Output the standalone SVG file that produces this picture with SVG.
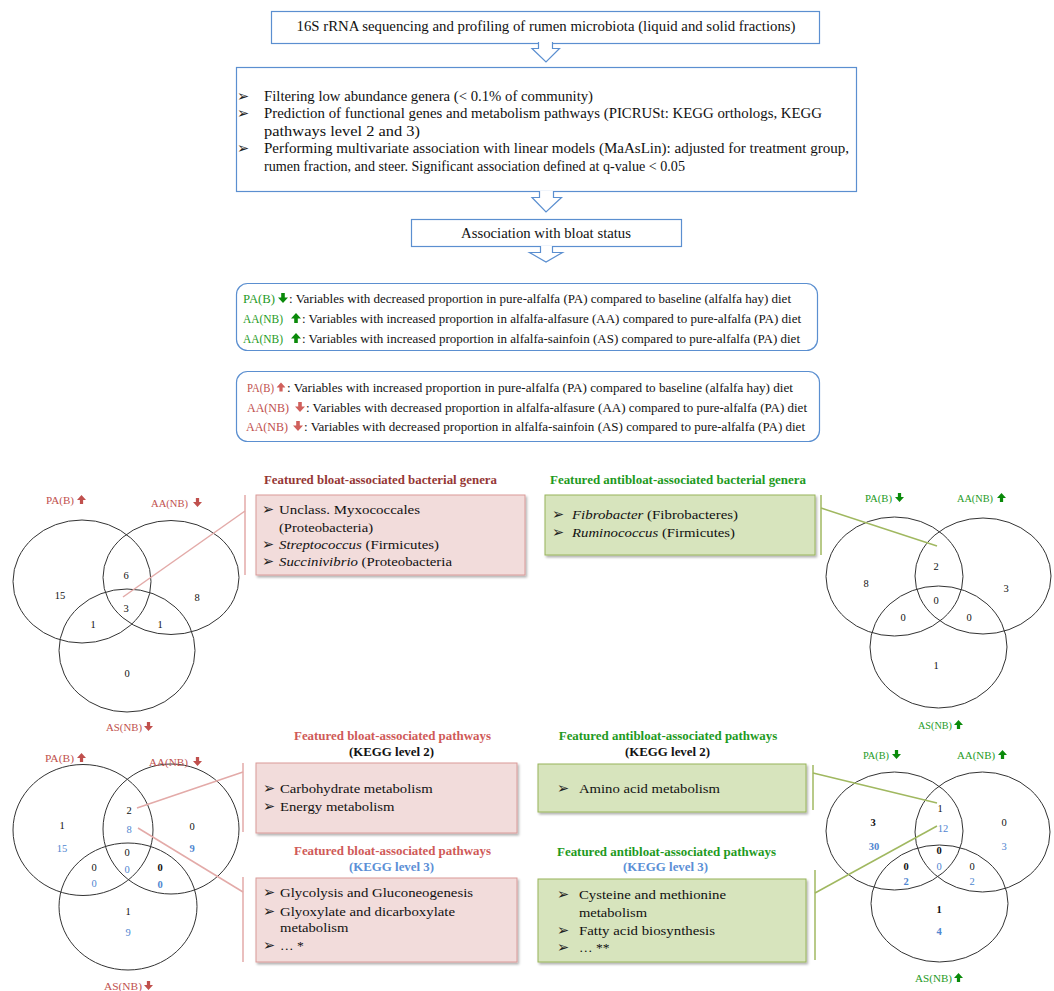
<svg xmlns="http://www.w3.org/2000/svg" xmlns:xlink="http://www.w3.org/1999/xlink" width="1054" height="991" viewBox="0 0 1054 991" font-family="'Liberation Serif','Times New Roman',serif">
<defs>
<style>
text{font-family:"Liberation Serif","Times New Roman",Times,serif;fill:#111}
.bul{font-family:"DejaVu Sans",sans-serif;font-size:14.5px;fill:#222}
.flow{fill:#fff;stroke:#5b8fd0;stroke-width:1.2}
.harrow{fill:#fff;stroke:#5b8fd0;stroke-width:1.2}
.leg{fill:#fff;stroke:#5b8fd0;stroke-width:1.2}
.ft{font-size:14px}
.lt{font-size:12px}
.pinkbox{fill:#f2dcdb;stroke:#d99a98;stroke-width:1}
.greenbox{fill:#d7e4bd;stroke:#98b45a;stroke-width:1}
.bt{font-size:13.5px}
.ven{fill:none;stroke:#333;stroke-width:1}
.vl{font-size:10.5px}
.red{fill:#c0504d}
.grn{fill:#1e9a1e}
.n{font-size:10.5px;text-anchor:middle}
.b{fill:#4f86d0}
.bold{font-weight:bold}
.ttl{font-size:12px;font-weight:bold;text-anchor:middle}
.plink{stroke:#e3aaa8;stroke-width:1.5;fill:none}
.glink{stroke:#a0b860;stroke-width:1.5;fill:none}
</style>
<symbol id="up" viewBox="0 0 10 10"><path d="M5,0 L10,5.5 L6.8,5.5 L6.8,10 L3.2,10 L3.2,5.5 L0,5.5 Z"/></symbol>
<symbol id="dn" viewBox="0 0 10 10"><path d="M5,10 L10,4.5 L6.8,4.5 L6.8,0 L3.2,0 L3.2,4.5 L0,4.5 Z"/></symbol>
<filter id="sh" x="-5%" y="-10%" width="115%" height="130%"><feDropShadow dx="1.5" dy="2" stdDeviation="1.2" flood-color="#000" flood-opacity="0.3"/></filter>
</defs>
<rect width="1054" height="991" fill="#fff"/>

<!-- Flow -->
<g id="step1">
<rect class="flow" x="271.5" y="11.5" width="548" height="32"/>
<text class="ft" x="546" y="31" text-anchor="middle" textLength="499" lengthAdjust="spacingAndGlyphs">16S rRNA sequencing and profiling of rumen microbiota (liquid and solid fractions)</text>
</g>
<g id="step2">
<rect class="flow" x="236.5" y="67.5" width="620" height="124"/>
<text class="bul" x="237" y="101">➢</text>
<text class="ft" x="264" y="101" textLength="329" lengthAdjust="spacingAndGlyphs">Filtering low abundance genera (&lt; 0.1% of community)</text>
<text class="bul" x="237" y="118">➢</text>
<text class="ft" x="264" y="118" textLength="558" lengthAdjust="spacingAndGlyphs">Prediction of functional genes and metabolism pathways (PICRUSt: KEGG orthologs, KEGG</text>
<text class="ft" x="264" y="136" textLength="156" lengthAdjust="spacingAndGlyphs">pathways level 2 and 3)</text>
<text class="bul" x="237" y="153">➢</text>
<text class="ft" x="264" y="153" textLength="585" lengthAdjust="spacingAndGlyphs">Performing multivariate association with linear models (MaAsLin): adjusted for treatment group,</text>
<text class="ft" x="264" y="171" textLength="421" lengthAdjust="spacingAndGlyphs">rumen fraction, and steer. Significant association defined at q-value &lt; 0.05</text>
</g>
<g id="step3">
<rect class="flow" x="411.5" y="219.5" width="270" height="27"/>
<text class="ft" x="546" y="238" text-anchor="middle" textLength="170" lengthAdjust="spacingAndGlyphs">Association with bloat status</text>
</g>
<g id="flow-arrows">
<path class="harrow" d="M538.5,42 V48.5 H532 L546,62 L559.5,48.5 H552.5 V42"/>
<path class="harrow" d="M539.5,191 V197.5 H532 L546,212 L561.5,197.5 H553.5 V191"/>
<path class="harrow" d="M540.5,246 V252.5 H529.5 L546,262 L562.5,252.5 H552.5 V246"/>
</g>

<!-- Legends -->
<g id="legend-antibloat">
<rect class="leg" x="236.5" y="283.5" width="581" height="67" rx="11"/>
<text class="lt grn" x="243" y="303" textLength="32" lengthAdjust="spacingAndGlyphs">PA(B)</text>
<use xlink:href="#dn" x="278" y="293" width="10" height="10" fill="#0a8a0a"/>
<text class="lt" x="289" y="303" textLength="502" lengthAdjust="spacingAndGlyphs">: Variables with decreased proportion in pure-alfalfa (PA) compared to baseline (alfalfa hay) diet</text>
<text class="lt grn" x="243" y="323" textLength="40" lengthAdjust="spacingAndGlyphs">AA(NB)</text>
<use xlink:href="#up" x="291" y="313" width="10" height="10" fill="#0a8a0a"/>
<text class="lt" x="302" y="323" textLength="499" lengthAdjust="spacingAndGlyphs">: Variables with increased proportion in alfalfa-alfasure (AA) compared to pure-alfalfa (PA) diet</text>
<text class="lt grn" x="243" y="343" textLength="40" lengthAdjust="spacingAndGlyphs">AA(NB)</text>
<use xlink:href="#up" x="291" y="333" width="10" height="10" fill="#0a8a0a"/>
<text class="lt" x="302" y="343" textLength="498" lengthAdjust="spacingAndGlyphs">: Variables with increased proportion in alfalfa-sainfoin (AS) compared to pure-alfalfa (PA) diet</text>
</g>
<g id="legend-bloat">
<rect class="leg" x="236.5" y="371.5" width="583" height="70" rx="11"/>
<text class="lt red" x="247" y="392" textLength="27" lengthAdjust="spacingAndGlyphs">PA(B)</text>
<use xlink:href="#up" x="276.5" y="382" width="9" height="10" fill="#d0605c"/>
<text class="lt" x="287" y="392" textLength="506" lengthAdjust="spacingAndGlyphs">: Variables with increased proportion in pure-alfalfa (PA) compared to baseline (alfalfa hay) diet</text>
<text class="lt red" x="247" y="412" textLength="42" lengthAdjust="spacingAndGlyphs">AA(NB)</text>
<use xlink:href="#dn" x="295" y="402" width="10" height="10" fill="#d0605c"/>
<text class="lt" x="306" y="412" textLength="501" lengthAdjust="spacingAndGlyphs">: Variables with decreased proportion in alfalfa-alfasure (AA) compared to pure-alfalfa (PA) diet</text>
<text class="lt red" x="246" y="431" textLength="42" lengthAdjust="spacingAndGlyphs">AA(NB)</text>
<use xlink:href="#dn" x="293" y="421" width="10" height="10" fill="#d0605c"/>
<text class="lt" x="304" y="431" textLength="501" lengthAdjust="spacingAndGlyphs">: Variables with decreased proportion in alfalfa-sainfoin (AS) compared to pure-alfalfa (PA) diet</text>
</g>

<!-- Venn top-left: bloat genera -->
<g id="venn-genera-bloat">
<ellipse class="ven" cx="82" cy="581.5" rx="69" ry="61.5"/>
<ellipse class="ven" cx="171" cy="577.5" rx="68" ry="57"/>
<ellipse class="ven" cx="127" cy="650.5" rx="68" ry="61.5"/>
<text class="vl red" x="46" y="504" textLength="28" lengthAdjust="spacingAndGlyphs">PA(B)</text>
<use xlink:href="#up" x="77" y="495" width="9" height="9" fill="#c0504d"/>
<text class="vl red" x="151" y="507" textLength="37" lengthAdjust="spacingAndGlyphs">AA(NB)</text>
<use xlink:href="#dn" x="193" y="498" width="9" height="9" fill="#c0504d"/>
<text class="vl red" x="106" y="731" textLength="36" lengthAdjust="spacingAndGlyphs">AS(NB)</text>
<use xlink:href="#dn" x="144" y="722" width="9" height="9" fill="#c0504d"/>
<text class="n" x="60" y="599">15</text>
<text class="n" x="126" y="579">6</text>
<text class="n" x="126" y="612">3</text>
<text class="n" x="197" y="601">8</text>
<text class="n" x="93" y="628">1</text>
<text class="n" x="160" y="628">1</text>
<text class="n" x="127" y="677">0</text>
</g>

<!-- Venn top-right: antibloat genera -->
<g id="venn-genera-antibloat">
<ellipse class="ven" cx="894.5" cy="576.5" rx="68.5" ry="59.5"/>
<ellipse class="ven" cx="983" cy="576" rx="68" ry="58"/>
<ellipse class="ven" cx="938.5" cy="647" rx="68.5" ry="61"/>
<text class="vl grn" x="865" y="502" textLength="27" lengthAdjust="spacingAndGlyphs">PA(B)</text>
<use xlink:href="#dn" x="895" y="493" width="9" height="9" fill="#0a8a0a"/>
<text class="vl grn" x="957" y="502" textLength="36" lengthAdjust="spacingAndGlyphs">AA(NB)</text>
<use xlink:href="#up" x="997" y="493" width="9" height="9" fill="#0a8a0a"/>
<text class="vl grn" x="918" y="729" textLength="34" lengthAdjust="spacingAndGlyphs">AS(NB)</text>
<use xlink:href="#up" x="954" y="720" width="9" height="9" fill="#0a8a0a"/>
<text class="n" x="866" y="587">8</text>
<text class="n" x="936" y="570">2</text>
<text class="n" x="1006" y="592">3</text>
<text class="n" x="936" y="604">0</text>
<text class="n" x="903" y="621">0</text>
<text class="n" x="969" y="621">0</text>
<text class="n" x="936" y="669">1</text>
</g>

<!-- Venn bottom-left: bloat pathways -->
<g id="venn-pathways-bloat">
<ellipse class="ven" cx="83" cy="830" rx="70" ry="65.5"/>
<ellipse class="ven" cx="171" cy="829" rx="68" ry="65"/>
<ellipse class="ven" cx="128" cy="906.5" rx="69" ry="63.5"/>
<text class="vl red" x="45" y="762" textLength="29" lengthAdjust="spacingAndGlyphs">PA(B)</text>
<use xlink:href="#up" x="77" y="753" width="9" height="9" fill="#c0504d"/>
<text class="vl red" x="149" y="766" textLength="39" lengthAdjust="spacingAndGlyphs">AA(NB)</text>
<use xlink:href="#dn" x="193" y="757" width="9" height="9" fill="#c0504d"/>
<text class="vl red" x="104" y="990" textLength="38" lengthAdjust="spacingAndGlyphs">AS(NB)</text>
<use xlink:href="#dn" x="144" y="981" width="9" height="9" fill="#c0504d"/>
<text class="n" x="62" y="829">1</text>
<text class="n b" x="62" y="852">15</text>
<text class="n" x="129" y="814">2</text>
<text class="n b" x="129" y="833">8</text>
<text class="n" x="192" y="830">0</text>
<text class="n b bold" x="192" y="852">9</text>
<text class="n" x="127" y="856">0</text>
<text class="n b" x="127" y="873">0</text>
<text class="n" x="94" y="871">0</text>
<text class="n b" x="94" y="887">0</text>
<text class="n bold" x="160" y="871">0</text>
<text class="n b bold" x="160" y="888">0</text>
<text class="n" x="128" y="915">1</text>
<text class="n b" x="128" y="936">9</text>
</g>

<!-- Venn bottom-right: antibloat pathways -->
<g id="venn-pathways-antibloat">
<ellipse class="ven" cx="894.5" cy="831" rx="68.5" ry="59"/>
<ellipse class="ven" cx="982.5" cy="832" rx="67.5" ry="60"/>
<ellipse class="ven" cx="939.5" cy="903.5" rx="68.5" ry="58.5"/>
<text class="vl grn" x="863" y="759" textLength="26" lengthAdjust="spacingAndGlyphs">PA(B)</text>
<use xlink:href="#dn" x="892" y="750" width="9" height="9" fill="#0a8a0a"/>
<text class="vl grn" x="957" y="759" textLength="38" lengthAdjust="spacingAndGlyphs">AA(NB)</text>
<use xlink:href="#up" x="998" y="750" width="9" height="9" fill="#0a8a0a"/>
<text class="vl grn" x="915" y="982" textLength="37" lengthAdjust="spacingAndGlyphs">AS(NB)</text>
<use xlink:href="#up" x="954" y="973" width="9" height="9" fill="#0a8a0a"/>
<text class="n" x="940" y="812">1</text>
<text class="n b" x="943" y="832">12</text>
<text class="n bold" x="873" y="826">3</text>
<text class="n b bold" x="874" y="850">30</text>
<text class="n" x="1004" y="826">0</text>
<text class="n b" x="1004" y="850">3</text>
<text class="n bold" x="939" y="854">0</text>
<text class="n b" x="939" y="870">0</text>
<text class="n bold" x="906" y="870">0</text>
<text class="n b bold" x="906" y="885">2</text>
<text class="n" x="972" y="870">0</text>
<text class="n b" x="972" y="885">2</text>
<text class="n bold" x="939" y="913">1</text>
<text class="n b bold" x="939" y="935">4</text>
</g>

<!-- Connectors -->
<g id="connectors">
<line class="plink" x1="245" y1="495" x2="245" y2="575"/>
<line class="plink" x1="123" y1="597" x2="245" y2="511"/>
<line class="glink" x1="821" y1="495" x2="821" y2="555"/>
<line class="glink" x1="821" y1="508" x2="937" y2="546"/>
<line class="plink" x1="243" y1="763" x2="243" y2="832"/>
<line class="plink" x1="137" y1="808" x2="243" y2="772"/>
<line class="plink" x1="243" y1="877" x2="243" y2="962"/>
<line class="plink" x1="138" y1="828" x2="243" y2="892"/>
<line class="glink" x1="813" y1="765" x2="813" y2="810"/>
<line class="glink" x1="813" y1="773" x2="937" y2="803"/>
<line class="glink" x1="815" y1="870" x2="815" y2="960"/>
<line class="glink" x1="815" y1="893" x2="937" y2="826"/>
</g>

<!-- Feature boxes -->
<g id="genera-bloat">
<text class="ttl" x="380.5" y="484" style="fill:#953735" textLength="233" lengthAdjust="spacingAndGlyphs">Featured bloat-associated bacterial genera</text>
<rect class="pinkbox" x="256" y="495" width="269" height="80" filter="url(#sh)"/>
<text class="bul" x="262" y="514">➢</text>
<text class="bt" x="279" y="514" textLength="141" lengthAdjust="spacingAndGlyphs">Unclass. Myxococcales</text>
<text class="bt" x="279" y="532" textLength="94" lengthAdjust="spacingAndGlyphs">(Proteobacteria)</text>
<text class="bul" x="262" y="549">➢</text>
<text class="bt" x="279" y="549" textLength="160" lengthAdjust="spacingAndGlyphs"><tspan font-style="italic">Streptococcus</tspan> (Firmicutes)</text>
<text class="bul" x="262" y="566">➢</text>
<text class="bt" x="279" y="566" textLength="173" lengthAdjust="spacingAndGlyphs"><tspan font-style="italic">Succinivibrio</tspan> (Proteobacteria</text>
</g>
<g id="genera-antibloat">
<text class="ttl" x="678" y="484" style="fill:#1e9a1e" textLength="256" lengthAdjust="spacingAndGlyphs">Featured antibloat-associated bacterial genera</text>
<rect class="greenbox" x="545" y="495" width="270" height="60" filter="url(#sh)"/>
<text class="bul" x="552" y="519">➢</text>
<text class="bt" x="572" y="519" textLength="166" lengthAdjust="spacingAndGlyphs"><tspan font-style="italic">Fibrobacter</tspan> (Fibrobacteres)</text>
<text class="bul" x="552" y="537">➢</text>
<text class="bt" x="572" y="537" textLength="163" lengthAdjust="spacingAndGlyphs"><tspan font-style="italic">Ruminococcus</tspan> (Firmicutes)</text>
</g>
<g id="pathways2-bloat">
<text class="ttl" x="392.5" y="740" style="fill:#cf5a58" textLength="197" lengthAdjust="spacingAndGlyphs">Featured bloat-associated pathways</text>
<text class="ttl" x="391.5" y="756" textLength="85" lengthAdjust="spacingAndGlyphs">(KEGG level 2)</text>
<rect class="pinkbox" x="256" y="763" width="261" height="70" filter="url(#sh)"/>
<text class="bul" x="263" y="793">➢</text>
<text class="bt" x="280" y="793" textLength="152.6" lengthAdjust="spacingAndGlyphs">Carbohydrate metabolism</text>
<text class="bul" x="263" y="811">➢</text>
<text class="bt" x="280" y="811" textLength="114.5" lengthAdjust="spacingAndGlyphs">Energy metabolism</text>
</g>
<g id="pathways2-antibloat">
<text class="ttl" x="668" y="740" style="fill:#1e9a1e" textLength="218.5" lengthAdjust="spacingAndGlyphs">Featured antibloat-associated pathways</text>
<text class="ttl" x="667.5" y="756" textLength="85" lengthAdjust="spacingAndGlyphs">(KEGG level 2)</text>
<rect class="greenbox" x="538" y="764" width="268" height="48" filter="url(#sh)"/>
<text class="bul" x="557" y="793">➢</text>
<text class="bt" x="579" y="793" textLength="141" lengthAdjust="spacingAndGlyphs">Amino acid metabolism</text>
</g>
<g id="pathways3-bloat">
<text class="ttl" x="392.5" y="855" style="fill:#cf5a58" textLength="197" lengthAdjust="spacingAndGlyphs">Featured bloat-associated pathways</text>
<text class="ttl" x="391.5" y="871" style="fill:#5b8fd6" textLength="85" lengthAdjust="spacingAndGlyphs">(KEGG level 3)</text>
<rect class="pinkbox" x="256" y="878" width="261" height="84" filter="url(#sh)"/>
<text class="bul" x="263" y="897">➢</text>
<text class="bt" x="280" y="897" textLength="193" lengthAdjust="spacingAndGlyphs">Glycolysis and Gluconeogenesis</text>
<text class="bul" x="263" y="916">➢</text>
<text class="bt" x="280" y="916" textLength="175" lengthAdjust="spacingAndGlyphs">Glyoxylate and dicarboxylate</text>
<text class="bt" x="280" y="932" textLength="68.5" lengthAdjust="spacingAndGlyphs">metabolism</text>
<text class="bul" x="263" y="950">➢</text>
<text class="bt" x="280" y="950">… *</text>
</g>
<g id="pathways3-antibloat">
<text class="ttl" x="666.5" y="856" style="fill:#1e9a1e" textLength="219" lengthAdjust="spacingAndGlyphs">Featured antibloat-associated pathways</text>
<text class="ttl" x="665.5" y="871" style="fill:#5b8fd6" textLength="85" lengthAdjust="spacingAndGlyphs">(KEGG level 3)</text>
<rect class="greenbox" x="538" y="879" width="268" height="83" filter="url(#sh)"/>
<text class="bul" x="557" y="899">➢</text>
<text class="bt" x="579" y="899" textLength="147" lengthAdjust="spacingAndGlyphs">Cysteine and methionine</text>
<text class="bt" x="579" y="917" textLength="68" lengthAdjust="spacingAndGlyphs">metabolism</text>
<text class="bul" x="557" y="935">➢</text>
<text class="bt" x="579" y="935" textLength="136" lengthAdjust="spacingAndGlyphs">Fatty acid biosynthesis</text>
<text class="bul" x="557" y="952">➢</text>
<text class="bt" x="579" y="952">… **</text>
</g>
</svg>
